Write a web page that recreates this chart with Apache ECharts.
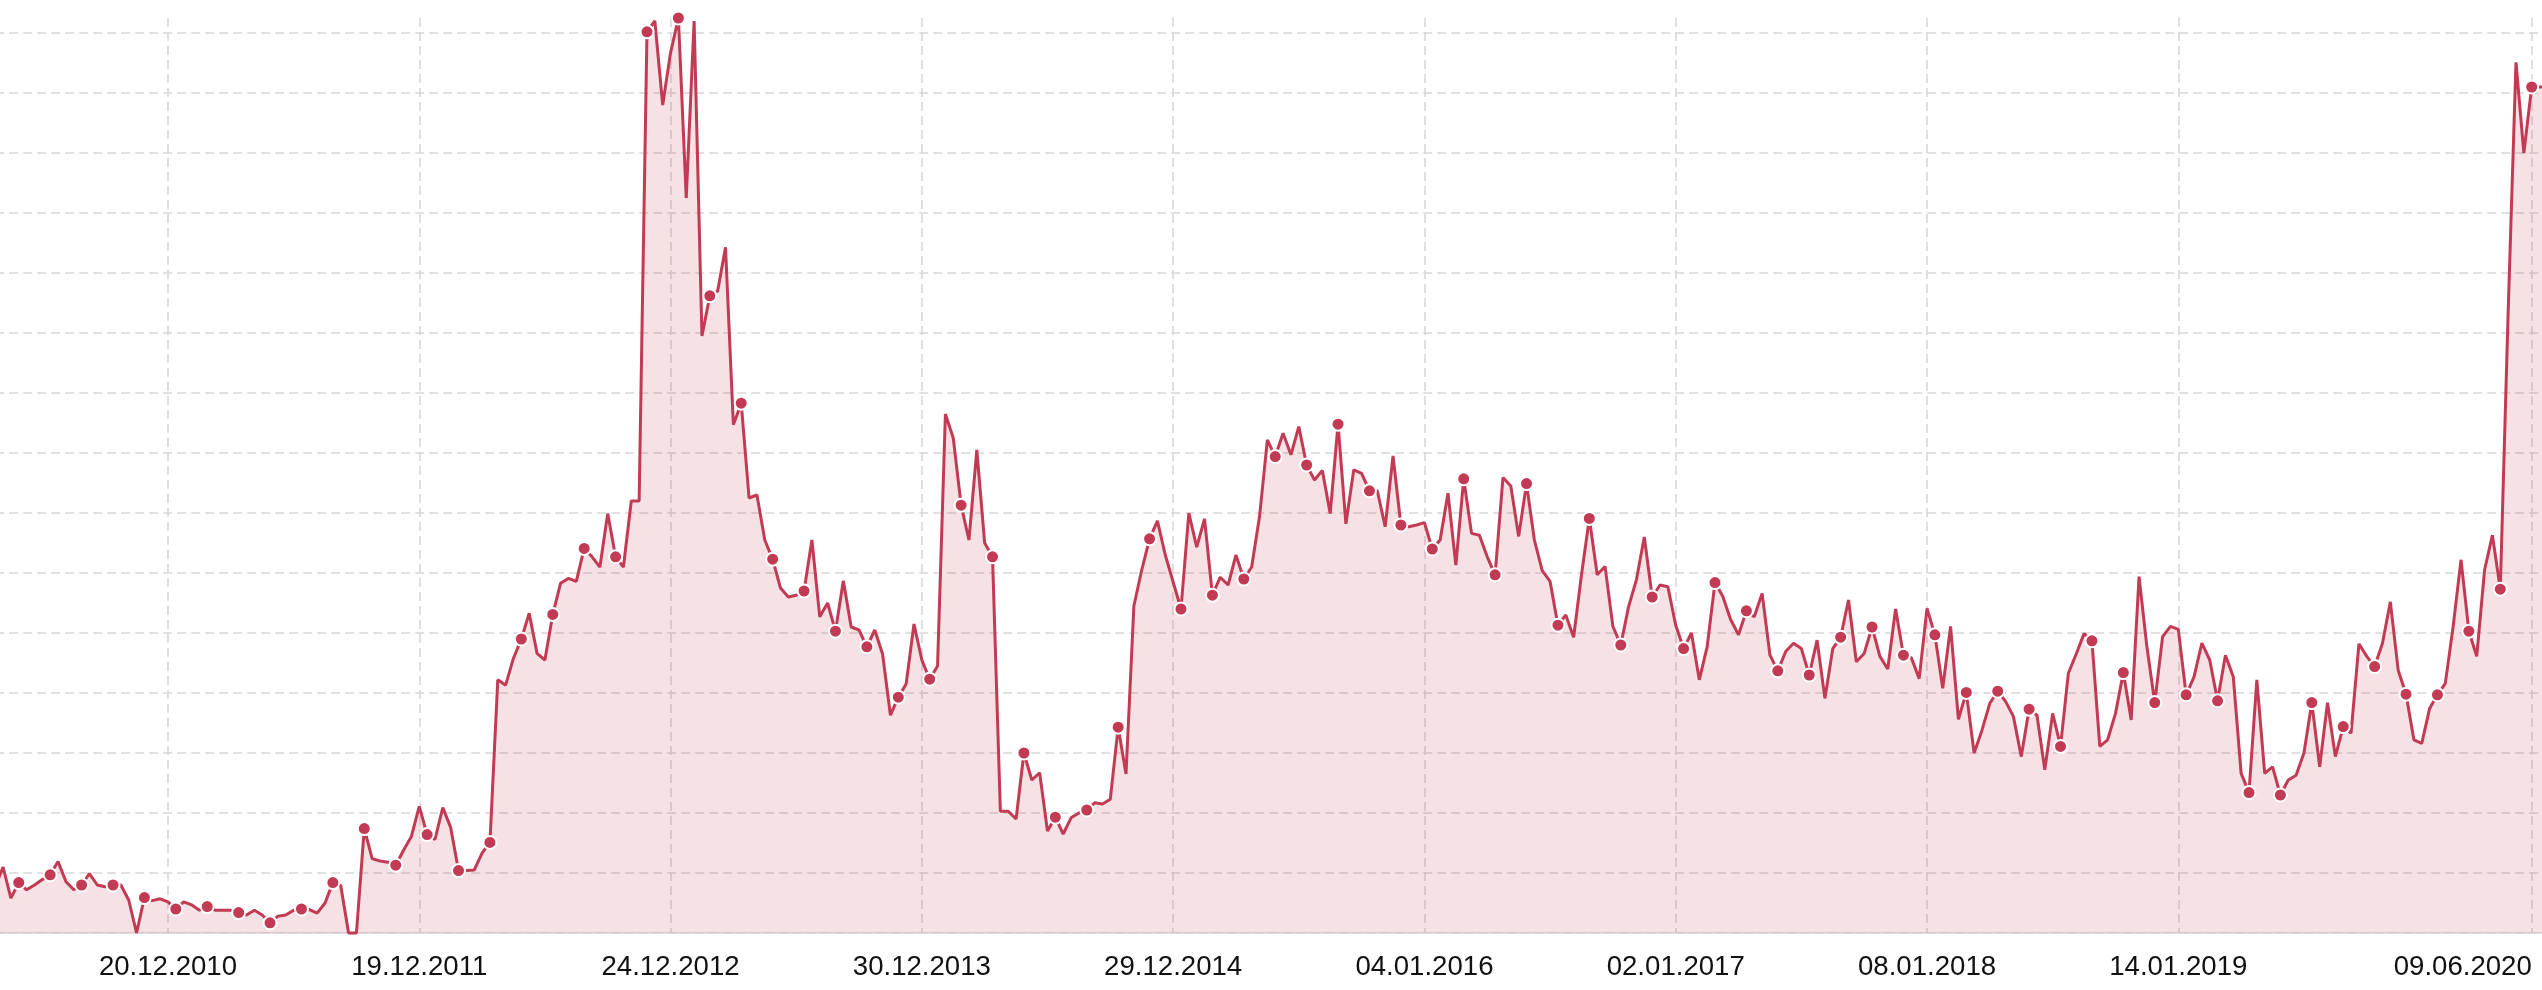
<!DOCTYPE html>
<html>
<head>
<meta charset="utf-8">
<script src="https://cdn.jsdelivr.net/npm/echarts@6/dist/echarts.min.js"></script>
<style>
html,body{margin:0;padding:0;background:#ffffff;}
#chart{width:2542px;height:990px;}
</style>
</head>
<body>
<div id="chart"></div>
<script>
// Tick labels and the category index each one sits on
const tickLabels = ['20.12.2010','19.12.2011','24.12.2012','30.12.2013','29.12.2014','04.01.2016','02.01.2017','08.01.2018','14.01.2019','09.06.2020'];
const tickIndex  = [22, 54, 86, 118, 150, 182, 214, 246, 278, 323];

// Series values, split by year segment
const valuesStart = [7.7,11.0,5.8,8.4,7.2,8.0,8.9,9.7,11.9,8.6,7.2,8.0,9.9,8.0,7.7,8.0,8.0,5.5,0,5.9,5.4,5.7];
const values2011 = [5.2,4.0,5.2,4.7,3.8,4.4,3.8,3.8,3.8,3.4,3.0,3.8,3.0,1.7,2.8,3.0,3.8,4.0,3.9,3.3,5.0,8.4,7.9,0,0,17.4,12.4,12.0,11.8,11.3,13.8,16.1];
const values2012 = [21.1,16.4,15.6,20.9,17.6,10.4,10.4,10.5,13.3,15.1,42.2,41.3,45.8,49.0,53.3,46.6,45.5,53.1,58.3,59.1,58.6,64.1,62.7,61.0,69.9,62.7,61.0,72.0,72.0,150.2,152.0,138.0];
const values2013 = [146.7,152.5,122.5,152.0,99.5,106.2,107.0,114.3,84.7,88.3,72.5,73.0,65.5,62.3,57.5,56.0,56.3,57.0,65.5,52.7,55.0,50.3,58.7,51.0,50.5,47.7,50.5,46.5,36.3,39.3,41.5,51.5];
const values2014 = [45.5,42.3,44.5,86.5,82.5,71.3,65.5,80.5,65.0,62.7,20.3,20.3,19.0,30.0,25.5,26.7,17.0,19.3,16.5,19.2,20.0,20.5,21.7,21.5,22.3,34.3,26.5,54.5,60.5,65.7,68.7,63.0];
const values2015 = [58.5,54.0,70.0,64.3,69.0,56.3,59.3,58.0,63.0,59.0,61.0,69.4,82.2,79.4,83.3,79.7,84.4,78.0,75.5,77.1,69.9,84.8,68.2,77.2,76.6,73.7,73.7,67.7,79.5,68.0,67.7,68.0];
const values2016 = [68.4,64.0,65.5,73.3,61.3,75.7,66.6,66.3,62.7,59.7,75.9,74.5,66.1,74.9,65.5,60.4,58.6,51.3,53.0,49.3,59.7,69.1,59.7,61.1,51.1,48.0,54.4,58.9,66.0,56.0,58.0,57.7];
const values2017 = [51.3,47.4,50.0,42.2,47.7,58.4,56.1,52.2,49.7,53.7,52.7,56.6,46.3,43.7,46.9,48.3,47.4,43.0,48.8,39.1,47.4,49.3,55.5,45.2,46.6,51.0,46.1,44.0,54.0,46.3,45.9,42.4];
const values2018 = [54.1,49.7,40.8,51.1,35.6,40.1,30.0,33.8,38.3,40.3,38.6,36.1,29.4,37.3,36.3,27.2,36.6,31.1,43.3,46.5,49.9,48.7,31.1,32.2,36.6,43.4,35.5,59.4,47.7,38.4,49.4,51.1];
const values2019 = [50.6,39.7,42.7,48.3,45.5,38.7,46.3,42.7,26.6,23.4,42.2,26.6,27.7,23.0,25.5,26.3,30.0,38.4,27.7,38.4,29.4,34.4,33.3,48.2,46.1,44.4,48.3,55.2,43.8,39.8,32.2,31.6,37.4,39.7,41.6,51.1,62.2,50.3,46.1,60.5,66.3,57.3,103.4,145.1,130.0,141.0,141.0,141.0];

const values = [].concat(valuesStart, values2011, values2012, values2013, values2014, values2015, values2016, values2017, values2018, values2019);
const categories = values.map((_, i) => String(i));

const RED = '#c23a53';
const FONT = "'Liberation Sans', Arial, Helvetica, sans-serif";
const isTick = (i) => tickIndex.indexOf(i) !== -1;
const lastTick = tickIndex[tickIndex.length - 1];

const chart = echarts.init(document.getElementById('chart'), null, {renderer: 'canvas'});
chart.setOption({
  animation: false,
  backgroundColor: '#ffffff',
  grid: {left: -4.8, right: -5.4, top: 18, bottom: 57, containLabel: false, outerBoundsMode: 'none'},
  xAxis: {
    type: 'category',
    data: categories,
    boundaryGap: false,
    axisLine: {show: true, lineStyle: {color: '#d9d9d9', width: 1.5}},
    axisTick: {show: false},
    axisLabel: {
      interval: (i) => isTick(i),
      margin: 20,
      fontSize: 27.6,
      color: '#111111',
      fontFamily: FONT,
      formatter: (v, i) => {
        const k = tickIndex.indexOf(i);
        if (k === -1) return '';
        if (i === lastTick) return '{r|' + tickLabels[k] + '}';
        return tickLabels[k];
      },
      rich: {
        r: {width: 276, align: 'left', fontSize: 27.6, color: '#111111', fontFamily: FONT}
      }
    },
    splitLine: {show: true, interval: (i) => isTick(i), lineStyle: {color: '#d8d8d8', type: [9, 5], width: 1.6}}
  },
  yAxis: {
    type: 'value',
    min: 0,
    max: 152.5,
    interval: 10,
    axisLine: {show: false},
    axisTick: {show: false},
    axisLabel: {show: false},
    splitLine: {show: true, showMaxLine: false, lineStyle: {color: '#d8d8d8', type: [9, 5], width: 1.6}}
  },
  series: [{
    type: 'line',
    data: values,
    clip: false,
    showSymbol: true,
    showAllSymbol: true,
    symbol: (v, p) => (p.dataIndex % 4 === 3 ? 'circle' : 'none'),
    symbolSize: 13,
    lineStyle: {color: RED, width: 3},
    itemStyle: {color: RED, borderColor: '#ffffff', borderWidth: 2},
    areaStyle: {color: 'rgba(194,58,83,0.22)'}
  }]
});
</script>
</body>
</html>
